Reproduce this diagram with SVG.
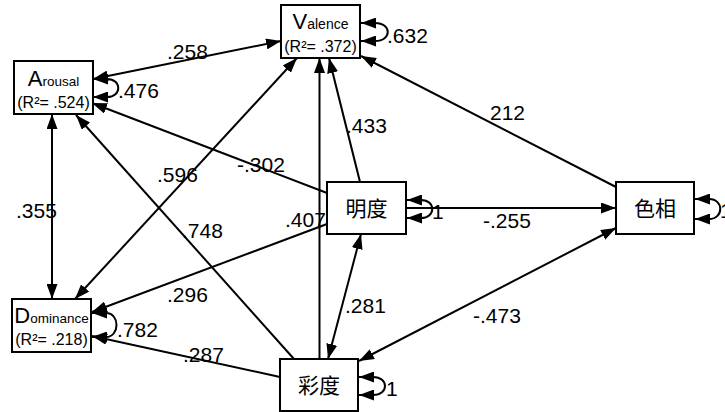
<svg xmlns="http://www.w3.org/2000/svg" width="725" height="412" viewBox="0 0 725 412">
<defs>
<marker id="ah" markerUnits="userSpaceOnUse" markerWidth="15" markerHeight="11" refX="15" refY="5.5" orient="auto-start-reverse" viewBox="0 0 15 11">
<path d="M0,0 L15,5.5 L0,11 z" fill="#000"/>
</marker>
<style>
.box{fill:#fff;stroke:#000;stroke-width:2}
.ln{fill:none;stroke:#000;stroke-width:2}
.one{marker-end:url(#ah)}
.two{marker-start:url(#ah);marker-end:url(#ah)}
.lbl{font-family:"Liberation Sans",Arial,sans-serif;font-size:21px;fill:#000}
.nt{font-family:"Liberation Sans",Arial,sans-serif;fill:#000;text-anchor:middle}
.cjk{font-family:"Liberation Sans","Noto Sans CJK SC",sans-serif;font-size:21px;fill:#000;text-anchor:middle}
</style>
</defs>
<rect width="725" height="412" fill="#fff"/>
<g id="connectors">
<path class="ln two" d="M93,79 L281,41"/>
<path class="ln two" d="M52,114 L52,299"/>
<path class="ln two" d="M297,58 L75,299"/>
<path class="ln one" d="M294,359 L76,115"/>
<path class="ln one" d="M327,193 L92,103"/>
<path class="ln one" d="M360,182 L329,58"/>
<path class="ln one" d="M319.5,359 L319.5,58"/>
<path class="ln one" d="M616,187 L361,56"/>
<path class="ln one" d="M327,224 L92,312"/>
<path class="ln one" d="M280,377 L92,336"/>
<path class="ln one" d="M406,208 L616,208"/>
<path class="ln two" d="M361,234 L328,359"/>
<path class="ln two" d="M616,228 L359,361"/>
<path class="ln two" d="M93,79 H107 C122,79 122,97 107,97 H93"/>
<path class="ln two" d="M361,23 H375 C392,23 392,41 375,41 H361"/>
<path class="ln two" d="M92,313 H106 C120,313 120,337 106,337 H92"/>
<path class="ln two" d="M407,200 H421 C436,200 436,218 421,218 H407"/>
<path class="ln two" d="M695,199 H709 C724,199 724,219 709,219 H695"/>
<path class="ln two" d="M359,377 H373 C389,377 389,395 373,395 H359"/>
</g>
<g id="labels">
<text class="lbl" x="167" y="59">.258</text>
<text class="lbl" x="118" y="98">.476</text>
<text class="lbl" x="387" y="43">.632</text>
<text class="lbl" x="490" y="120">212</text>
<text class="lbl" x="346" y="133">.433</text>
<text class="lbl" x="237" y="172">-.302</text>
<text class="lbl" x="157" y="182">.596</text>
<text class="lbl" x="16" y="218">.355</text>
<text class="lbl" x="182" y="238">.748</text>
<text class="lbl" x="285" y="227">.407</text>
<text class="lbl" x="483" y="228">-.255</text>
<text class="lbl" x="167" y="302">.296</text>
<text class="lbl" x="183" y="362">.287</text>
<text class="lbl" x="345" y="313">.281</text>
<text class="lbl" x="473" y="323">-.473</text>
<text class="lbl" x="117" y="337">.782</text>
<text class="lbl" x="432" y="219">1</text>
<text class="lbl" x="386" y="396">1</text>
<text class="lbl" x="720" y="218">1</text>
</g>
<g id="arousal">
<rect class="box" x="14" y="61" width="79" height="53"/>
<text class="nt" x="53.5" y="86"><tspan font-size="22">A</tspan><tspan font-size="13.5">rousal</tspan></text>
<text class="nt" x="53.5" y="108" font-size="16">(R²= .524)</text>
</g>
<g id="valence">
<rect class="box" x="281" y="5" width="79" height="53"/>
<text class="nt" x="320.5" y="29"><tspan font-size="22">V</tspan><tspan font-size="14">alence</tspan></text>
<text class="nt" x="320.5" y="52" font-size="16">(R²= .372)</text>
</g>
<g id="dominance">
<rect class="box" x="12" y="299" width="79" height="53"/>
<text class="nt" x="51.5" y="323"><tspan font-size="22">D</tspan><tspan font-size="13.5">ominance</tspan></text>
<text class="nt" x="51.5" y="345" font-size="16">(R²= .218)</text>
</g>
<g id="mingdu">
<rect class="box" x="327" y="182" width="79" height="52"/>
<text class="cjk" x="366.5" y="216">明度</text>
</g>
<g id="sexiang">
<rect class="box" x="616" y="182" width="78" height="52"/>
<text class="cjk" x="655" y="216">色相</text>
</g>
<g id="caidu">
<rect class="box" x="280" y="359" width="78" height="52"/>
<text class="cjk" x="319" y="393">彩度</text>
</g>
</svg>
